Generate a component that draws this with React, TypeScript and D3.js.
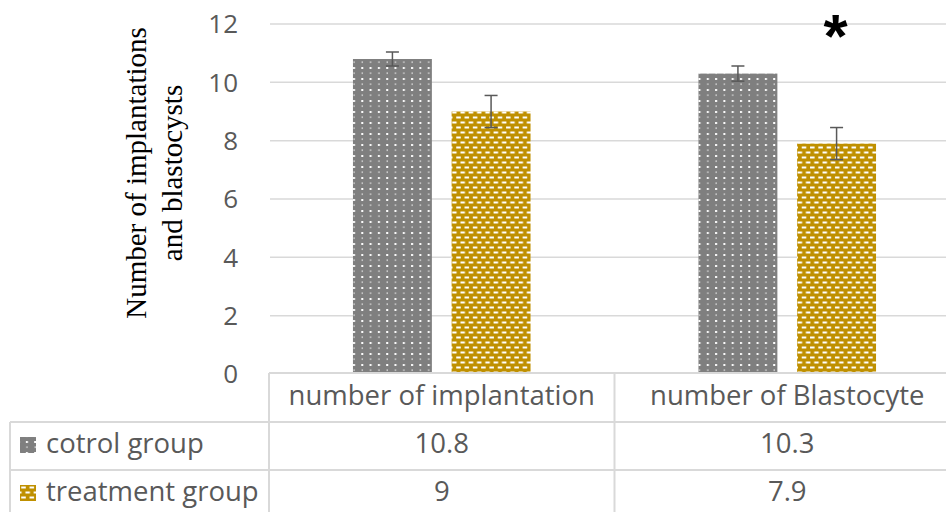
import React from "react";
import * as d3 from "d3";

const categories = ["number of implantation", "number of Blastocyte"];
const seriesNames = ["cotrol group", "treatment group"];
const controlValues = [10.8, 10.3];
const treatmentValues = [9, 7.9];
const controlErrors = [0.24, 0.26];
const treatmentErrors = [0.55, 0.55];
const tableLabels = [["10.8", "10.3"], ["9", "7.9"]];
const yTicks = [0, 2, 4, 6, 8, 10, 12];
const significance = ["", "*"];

const W = 946;
const H = 512;
const plotLeft = 269;
const plotRight = 960;
const plotTop = 24;
const plotBottom = 374;
const TEXT = "#595959";
const GRID = "#d9d9d9";
const FONT = "'Open Sans', sans-serif";

export default function App() {
  const y = d3.scaleLinear().domain([0, 12]).range([plotBottom, plotTop]);
  const x0 = d3.scaleBand<string>().domain(categories).range([plotLeft, plotRight]).paddingInner(0).paddingOuter(0);
  const bw = x0.bandwidth();
  const x1 = d3.scaleBand<string>().domain(seriesNames).range([bw * 0.243, bw * 0.757]).paddingInner(0.2);
  const series = [
    { name: seriesNames[0], values: controlValues, errors: controlErrors, fill: "url(#patControl)" },
    { name: seriesNames[1], values: treatmentValues, errors: treatmentErrors, fill: "url(#patTreat)" },
  ];
  const rowTops = [422, 470, 518];
  const headerTop = 373;

  return (
    <svg width={W} height={H} style={{ position: "absolute", left: 0, top: 0, background: "#fff" }}>
      <defs>
        <pattern id="patControl" patternUnits="userSpaceOnUse" width="8.3" height="11">
          <rect width="8.3" height="11" fill="#7f7f7f" />
          <rect x="1" y="1" width="2" height="2" fill="#ffffff" />
          <rect x="1.5" y="6.3" width="1" height="1.8" fill="#e6e6e6" />
        </pattern>
        <pattern id="patTreat" patternUnits="userSpaceOnUse" width="8.3" height="10">
          <rect width="8.3" height="10" fill="#bf9000" />
          <rect x="0.5" y="1.5" width="4.5" height="2" fill="#ffffff" />
          <rect x="4.65" y="6.5" width="4.5" height="2" fill="#ffffff" />
          <rect x="-3.65" y="6.5" width="4.5" height="2" fill="#ffffff" />
        </pattern>
      </defs>

      {/* gridlines */}
      {yTicks.filter((t) => t > 0).map((t) => (
        <line key={t} x1={plotLeft + 1} x2={W} y1={y(t)} y2={y(t)} stroke={GRID} strokeWidth={1.5} />
      ))}

      {/* y tick labels */}
      {yTicks.map((t) => (
        <text key={t} x={238} y={y(t)} dy="0.36em" textAnchor="end" fontFamily={FONT} fontSize={26} fill={TEXT}>
          {t}
        </text>
      ))}

      {/* y-axis title */}
      <text transform={`translate(146,173) rotate(-90)`} textAnchor="middle" fontFamily="'Liberation Serif', 'Times New Roman', serif" fontSize={29} fill="#000">
        Number of implantations
      </text>
      <text transform={`translate(182,173) rotate(-90)`} textAnchor="middle" fontFamily="'Liberation Serif', 'Times New Roman', serif" fontSize={29} fill="#000">
        and blastocysts
      </text>

      {/* bars */}
      {categories.map((c, ci) => (
        <g key={c} transform={`translate(${x0(c)},0)`}>
          {series.map((s) => {
            const bx = x1(s.name)!;
            const v = s.values[ci];
            const e = s.errors[ci];
            const cx = bx + x1.bandwidth() / 2;
            return (
              <g key={s.name}>
                <rect x={bx} y={y(v)} width={x1.bandwidth()} height={y(0) - y(v)} fill={s.fill} />
                <line x1={cx} x2={cx} y1={y(v + e)} y2={y(v - e)} stroke={TEXT} strokeWidth={1.5} />
                <line x1={cx - 6.5} x2={cx + 6.5} y1={y(v + e)} y2={y(v + e)} stroke={TEXT} strokeWidth={1.5} />
                <line x1={cx - 6.5} x2={cx + 6.5} y1={y(v - e)} y2={y(v - e)} stroke={TEXT} strokeWidth={1.5} />
              </g>
            );
          })}
          {significance[ci] && (
            <text x={x1(seriesNames[1])! + x1.bandwidth() / 2 - 1} y={56.5} textAnchor="middle" fontFamily="'Liberation Sans', Arial, sans-serif" fontWeight="bold" fontSize={62} fill="#000">
              {significance[ci]}
            </text>
          )}
        </g>
      ))}

      {/* table lines */}
      <g stroke={GRID} strokeWidth={2} fill="none">
        <line x1={plotLeft} x2={W} y1={headerTop} y2={headerTop} />
        <line x1={10} x2={W} y1={rowTops[0]} y2={rowTops[0]} />
        <line x1={10} x2={W} y1={rowTops[1]} y2={rowTops[1]} />
        <line x1={10} x2={10} y1={rowTops[0]} y2={H} />
        {categories.map((c) => (
          <line key={c} x1={x0(c)!} x2={x0(c)!} y1={headerTop} y2={H} />
        ))}
      </g>

      {/* header texts */}
      {categories.map((c) => (
        <text key={c} x={x0(c)! + bw / 2} y={405} textAnchor="middle" fontFamily={FONT} fontSize={27.5} fill={TEXT}>
          {c}
        </text>
      ))}

      {/* rows */}
      {series.map((s, si) => (
        <g key={s.name}>
          <rect x={20} y={rowTops[si] + 15} width={16} height={16} fill={s.fill} />
          <text x={46} y={rowTops[si] + 31} fontFamily={FONT} fontSize={27.5} fill={TEXT}>
            {s.name}
          </text>
          {categories.map((c, ci) => (
            <text key={c} x={x0(c)! + bw / 2} y={rowTops[si] + 31} textAnchor="middle" fontFamily={FONT} fontSize={27.5} fill={TEXT}>
              {tableLabels[si][ci]}
            </text>
          ))}
        </g>
      ))}
    </svg>
  );
}
